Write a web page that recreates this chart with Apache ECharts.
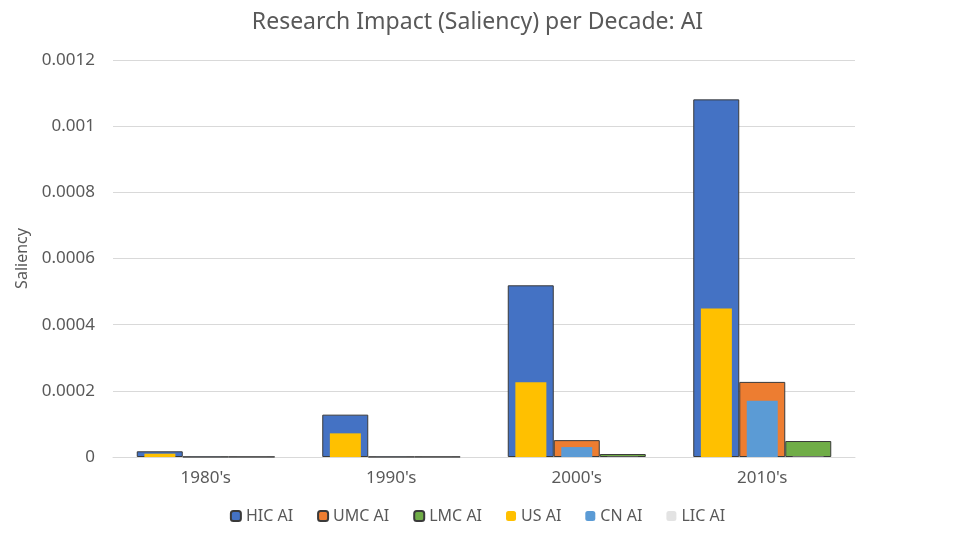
<!DOCTYPE html>
<html>
<head>
<meta charset="utf-8"/>
<title>Research Impact (Saliency) per Decade: AI</title>
<script src="https://cdn.jsdelivr.net/npm/echarts@6/dist/echarts.min.js"></script>
<style>
    html, body { margin: 0; padding: 0; background: #fff; }
    #chart { width: 955px; height: 537px; }
</style>
</head>
<body>
<div id="chart"></div>
<script>
    // decades on the x axis
    var decades = ["1980's", "1990's", "2000's", "2010's"];
    // outer (wide) bars
    var hicAI = [0.0000172, 0.000128, 0.000519, 0.001081];
    var umcAI = [0.0000006, 0.0000006, 0.0000510, 0.000227];
    var lmcAI = [0.0000006, 0.0000006, 0.0000090, 0.0000483];
    // inner (narrow) bars
    var usAI = [0.0000100, 0.0000715, 0.000226, 0.000449];
    var cnAI = [0.0000002, 0.0000002, 0.0000300, 0.000170];
    var licAI = [0.0000001, 0.0000001, 0.0000005, 0.0000010];
    var yTicks = [0, 0.0002, 0.0004, 0.0006, 0.0008, 0.001, 0.0012];

    var font = 'Noto Sans';
    var txt = '#595959';
    var outerBorder = '#3a3a3a';

    function outer(name, data, color) {
        return {
            name: name, type: 'bar', xAxisIndex: 0, data: data,
            barWidth: 46, barGap: '0%',
            itemStyle: {color: color, borderColor: outerBorder, borderWidth: 1}
        };
    }
    function inner(name, data, color) {
        return {
            name: name, type: 'bar', xAxisIndex: 1, data: data,
            barWidth: 31, barGap: '48%',
            itemStyle: {color: color}
        };
    }

    var myChart = echarts.init(document.getElementById('chart'));
    var option = {
        animation: false,
        textStyle: {fontFamily: font},
        title: {
            text: 'Research Impact (Saliency) per Decade: AI',
            left: 'center', top: 6,
            textStyle: {fontFamily: font, fontSize: 23, fontWeight: 'normal', color: txt}
        },
        legend: {
            bottom: 8, left: 'center', itemWidth: 10, itemHeight: 10, itemGap: 24,
            textStyle: {fontFamily: font, fontSize: 16, color: txt},
            data: ['HIC AI', 'UMC AI', 'LMC AI', 'US AI', 'CN AI', 'LIC AI']
        },
        grid: {left: 113, right: 100, top: 60, bottom: 80},
        xAxis: [
            {
                type: 'category', data: decades,
                axisLine: {lineStyle: {color: '#d9d9d9'}},
                axisTick: {show: false},
                axisLabel: {color: txt, fontSize: 17, margin: 13, fontFamily: font}
            },
            {
                type: 'category', data: decades, show: false
            }
        ],
        yAxis: {
            type: 'value', min: 0, max: 0.0012, interval: 0.0002,
            name: 'Saliency', nameLocation: 'middle', nameGap: 78, nameRotate: 90,
            nameTextStyle: {color: txt, fontSize: 16, fontFamily: font},
            axisLine: {show: false},
            axisTick: {show: false},
            splitLine: {lineStyle: {color: '#d9d9d9'}},
            axisLabel: {
                color: txt, fontSize: 17, margin: 18, fontFamily: font,
                formatter: function (v) {
                    var i = Math.round(v / 0.0002);
                    return String(yTicks[i]);
                }
            }
        },
        series: [
            outer('HIC AI', hicAI, '#4472c4'),
            outer('UMC AI', umcAI, '#ed7d31'),
            outer('LMC AI', lmcAI, '#70ad47'),
            inner('US AI', usAI, '#ffc000'),
            inner('CN AI', cnAI, '#5b9bd5'),
            inner('LIC AI', licAI, '#e3e3e3')
        ]
    };
    myChart.setOption(option);
</script>
</body>
</html>
